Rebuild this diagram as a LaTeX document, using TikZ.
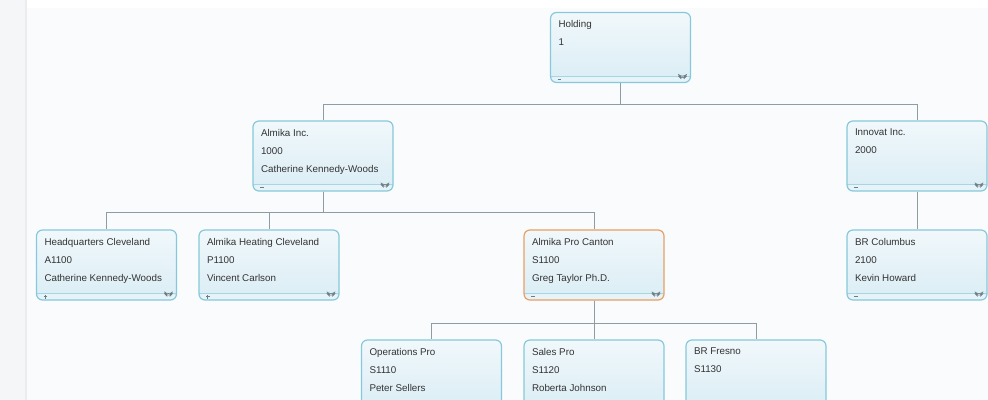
\documentclass[tikz,border=0pt]{standalone}
\usepackage{fontspec}
\setmainfont{Liberation Sans}
\usetikzlibrary{positioning}

\definecolor{cardborder}{HTML}{86C9DA}
\definecolor{cardtop}{HTML}{F1F8FB}
\definecolor{cardbottom}{HTML}{DAEDF5}
\definecolor{cardfoot}{HTML}{E6F3F8}
\definecolor{cardline}{HTML}{A8D5E2}
\definecolor{cardtext}{HTML}{333333}
\definecolor{cardicon}{HTML}{6E7C84}
\definecolor{activeborder}{HTML}{E8A064}
\definecolor{linkgray}{HTML}{8E9CA3}
\definecolor{pagebg}{HTML}{F5F6F7}
\definecolor{panelbg}{HTML}{FAFBFD}

% text of one card, three lines from the top
\newcommand\cardtext[3]{\begin{minipage}[t][27pt][t]{62pt}\fontsize{4.9}{9}\selectfont\raggedright #1\par #2\par #3\end{minipage}}

\tikzset{
	card/.style={draw=cardborder, line width=0.6pt, rounded corners=3pt,
		top color=cardtop, bottom color=cardbottom, text=cardtext,
		inner xsep=4pt, inner ysep=4pt, minimum width=70pt, minimum height=35pt,
		path picture={
			% footer strip
			\fill[cardfoot] ([yshift=3.2pt]path picture bounding box.south west) rectangle (path picture bounding box.south east);
			\draw[cardline, line width=0.5pt] ([yshift=3.2pt]path picture bounding box.south west) -- ([yshift=3.2pt]path picture bounding box.south east);
			% minus or plus sign
			\draw[cardicon, line width=0.35pt] ([xshift=3.5pt,yshift=1.6pt]path picture bounding box.south west) -- ++(1.8pt,0)
				([xshift=4.4pt,yshift=1.6pt-0.9*#1pt]path picture bounding box.south west) -- ++(0,1.8*#1pt);
			% chevrons
			\draw[cardicon, line width=0.3pt] ([xshift=-4.6pt,yshift=2.6pt]path picture bounding box.south east) -- ++(0.6pt,-0.6pt) -- ++(0.6pt,0.6pt)
				([xshift=-4.6pt,yshift=1.8pt]path picture bounding box.south east) -- ++(0.6pt,-0.6pt) -- ++(0.6pt,0.6pt);
		}},
	card/.default=0,
	active/.style={draw=activeborder},
	link/.style={draw=linkgray, line width=0.5pt}
}

\begin{document}
\begin{tikzpicture}[x=0.5pt, y=-0.5pt]
	
	% page and panel
	\useasboundingbox (0,0) rectangle (988,400);
	\clip (0,0) rectangle (988,400);
	\fill[pagebg] (0,0) rectangle (988,400);
	\fill[panelbg] (26,8) rectangle (988,400);
	\fill[white] (26,0) rectangle (988,8);
	\draw[gray!15, line width=0.8pt] (26,0) -- (26,400);
	
	%% CARDS
	
	% Top level
	\node[card] (holding) at (620.5,47.5) {\cardtext{Holding}{1}{}};
	
	% Companies
	\node[card] (almika)  at (323,156) {\cardtext{Almika Inc.}{1000}{Catherine Kennedy-Woods}};
	\node[card] (innovat) at (917,156) {\cardtext{Innovat Inc.}{2000}{}};
	
	% Units
	\node[card=1] (hqcleveland) at (106.5,265) {\cardtext{Headquarters Cleveland}{A1100}{Catherine Kennedy-Woods}};
	\node[card=1] (heating)     at (269,265)   {\cardtext{Almika Heating Cleveland}{P1100}{Vincent Carlson}};
	\node[card, active] (canton) at (594,265)  {\cardtext{Almika Pro Canton}{S1100}{Greg Taylor Ph.D.}};
	\node[card] (columbus)      at (917,265)   {\cardtext{BR Columbus}{2100}{Kevin Howard}};
	
	% Sub units
	\node[card] (operations) at (431.5,375) {\cardtext{Operations Pro}{S1110}{Peter Sellers}};
	\node[card] (salespro)   at (594,375)   {\cardtext{Sales Pro}{S1120}{Roberta Johnson}};
	\node[card] (fresno)     at (756,375)   {\cardtext{BR Fresno}{S1130}{}};
	
	%% LINKS
	
	\foreach \child in {almika, innovat}
	{
		\draw[link] (holding.south) -- ++(0,21) -| (\child.north);
	}
	\foreach \child in {hqcleveland, heating, canton}
	{
		\draw[link] (almika.south) -- ++(0,21) -| (\child.north);
	}
	\draw[link] (innovat.south) -- (columbus.north);
	\foreach \child in {operations, salespro, fresno}
	{
		\draw[link] (canton.south) -- ++(0,23) -| (\child.north);
	}
	
\end{tikzpicture}
\end{document}
